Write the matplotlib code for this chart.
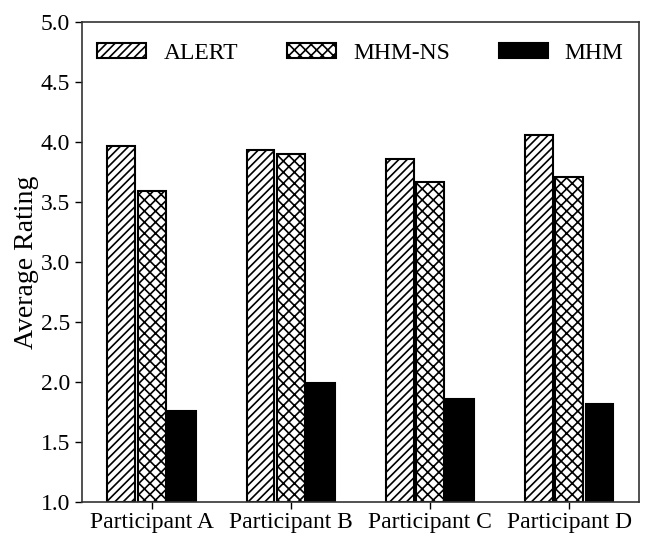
import matplotlib
matplotlib.use("Agg")
import matplotlib.pyplot as plt
import numpy as np

participants = ["Participant A", "Participant B", "Participant C", "Participant D"]
series_names = ["ALERT", "MHM-NS", "MHM"]
alert = [3.97, 3.93, 3.86, 4.06]
mhm_ns = [3.59, 3.90, 3.67, 3.71]
mhm = [1.76, 1.99, 1.86, 1.82]
yticks = [1.0, 1.5, 2.0, 2.5, 3.0, 3.5, 4.0, 4.5, 5.0]

plt.rcParams['font.family'] = ['Liberation Serif', 'DejaVu Serif']
plt.rcParams['hatch.linewidth'] = 1.2

fig = plt.figure(figsize=(6.64, 5.46), dpi=100)
ax = fig.add_axes([0.1235, 0.0806, 0.8385, 0.8791])

x = np.arange(len(participants))
w = 0.2
off = 0.218
styles = [dict(facecolor='white', hatch='////'),
          dict(facecolor='white', hatch='xxx'),
          dict(facecolor='black', hatch=None)]
for i, (vals, name, st) in enumerate(zip([alert, mhm_ns, mhm], series_names, styles)):
    ax.bar(x + (i - 1) * off, np.array(vals) - 1.0, bottom=1.0, width=w,
           edgecolor='black', linewidth=1.5, label=name, **st)

ax.set_xlim(-0.5, 3.5)
ax.set_ylim(1.0, 5.0)
ax.set_yticks(yticks)
ax.set_yticklabels([f"{t:.1f}" for t in yticks])
ax.set_xticks(x)
ax.set_xticklabels(participants)
ax.tick_params(axis='both', labelsize=17, length=5, width=1, direction='out', colors='black')
ax.tick_params(axis='x', pad=2)
ax.set_ylabel("Average Rating", fontsize=20, labelpad=1)
for s in ax.spines.values():
    s.set_color('#333333')
    s.set_linewidth(1.2)

ax.legend(loc='center', bbox_to_anchor=(0.5, 0.935), ncol=3, frameon=False,
          fontsize=17, handlelength=2.08, handleheight=0.65, handletextpad=0.72,
          columnspacing=2.07)

fig.savefig("out.png", dpi=100)
